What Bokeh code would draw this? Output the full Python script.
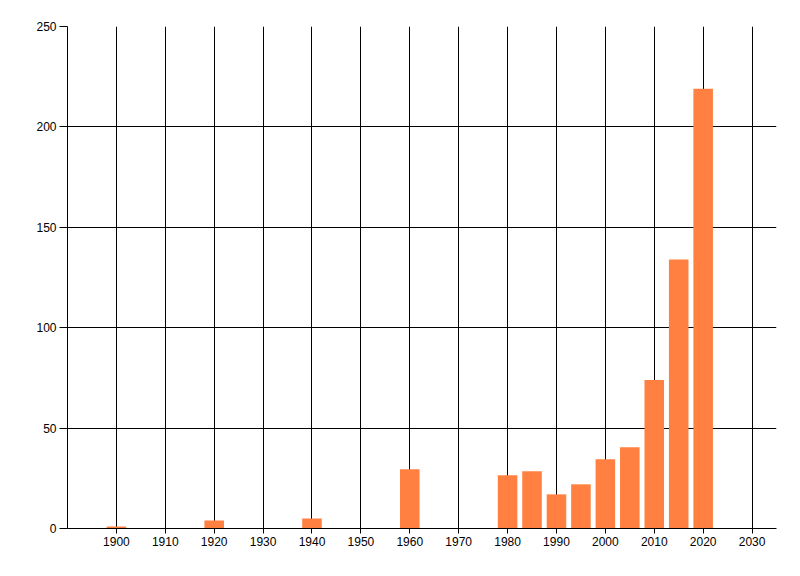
from bokeh.plotting import figure
from bokeh.models import Range1d, FixedTicker, ColumnDataSource
from bokeh.embed import file_html
from bokeh.resources import INLINE

# Data
years = [1900, 1920, 1940, 1960, 1980, 1985, 1990, 1995, 2000, 2005, 2010, 2015, 2020]
counts = [1, 4, 5, 29.5, 26.5, 28.5, 17, 22, 34.5, 40.5, 74, 134, 219]
x_ticks = list(range(1900, 2031, 10))
y_ticks = [0, 50, 100, 150, 200, 250]

FONT = "Liberation Sans"

p = figure(width=792, height=566, output_backend="svg", toolbar_location=None,
           x_range=Range1d(1890, 2035), y_range=Range1d(0, 250),
           min_border_left=67, min_border_right=16, min_border_top=26, min_border_bottom=38)
p.outline_line_color = None
p.background_fill_color = "white"
p.border_fill_color = "white"

source = ColumnDataSource(data=dict(year=years, count=counts))
p.vbar(x="year", top="count", bottom=0, width=4, source=source,
       fill_color="#FF8040", line_color=None)

# axes
p.xaxis.ticker = FixedTicker(ticks=x_ticks)
p.yaxis.ticker = FixedTicker(ticks=y_ticks)
for ax in (p.xaxis, p.yaxis):
    ax.axis_line_color = "black"
    ax.axis_line_width = 1
    ax.major_tick_line_color = "black"
    ax.major_tick_in = 0
    ax.minor_tick_line_color = None
    ax.major_label_text_font = FONT
    ax.major_label_text_font_size = "12px"
    ax.major_label_text_color = "black"
p.xaxis.major_tick_out = 5
p.xaxis.major_label_standoff = 3
p.yaxis.major_tick_out = 8
p.yaxis.major_label_standoff = 3

# grid
p.xgrid.grid_line_color = "black"
p.ygrid.grid_line_color = "black"
p.xgrid.grid_line_alpha = 1
p.ygrid.grid_line_alpha = 1

open("out.html", "w").write(file_html(p, INLINE))
